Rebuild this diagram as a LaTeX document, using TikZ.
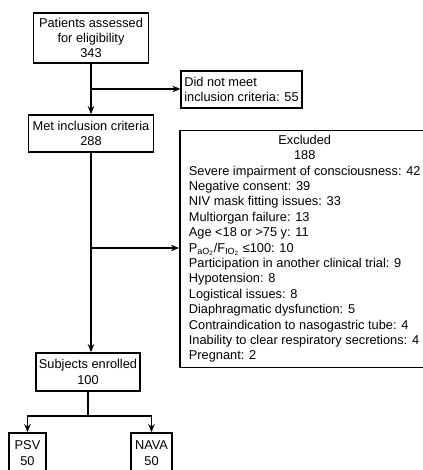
\documentclass[tikz,border=0pt]{standalone}
\usepackage{fontspec}
\setmainfont{Liberation Sans}
\usepackage{tikz}
\usetikzlibrary{positioning}
\usetikzlibrary{arrows, shapes, arrows.meta}
\tikzstyle{box} = [draw=black, line width=1.8pt, inner sep=3pt, align=center]
\tikzstyle{line} = [line width=1.8pt]
\tikzstyle{arrow} = [line width=1.8pt,->,>={Stealth[length=8pt,width=6.5pt]}]

\begin{document}
\begin{tikzpicture}[x=1pt,y=-1pt,font=\fontsize{12.8}{15.4}\selectfont]
        \useasboundingbox (0,0) rectangle (422,470);
        \node[box,minimum width=115pt,minimum height=50pt] (assess) at (91,38) {Patients assessed\\for eligibility\\343};
        \node[box,align=left,minimum width=119pt,minimum height=37pt] (notmet) at (241.5,89.5) {Did not meet\\inclusion criteria: 55};
        \node[box,minimum width=125pt,minimum height=37pt] (met) at (91,133.5) {Met inclusion criteria\\288};
        \node[box,anchor=west,inner xsep=0pt,minimum height=236pt] (excl) at (179,249) {%
            \begin{tabular}{@{\hspace{9pt}}l@{\hspace{9pt}}}
            \multicolumn{1}{@{\hspace{9pt}}c@{\hspace{9pt}}}{Excluded}\\
            \multicolumn{1}{@{\hspace{9pt}}c@{\hspace{9pt}}}{188}\\
            Severe impairment of consciousness: 42\\
            Negative consent: 39\\
            NIV mask fitting issues: 33\\
            Multiorgan failure: 13\\
            Age <18 or >75 y: 11\\
            P\textsubscript{aO\textsubscript{2}}/F\textsubscript{IO\textsubscript{2}} ≤100: 10\\
            Participation in another clinical trial: 9\\
            Hypotension: 8\\
            Logistical issues: 8\\
            Diaphragmatic dysfunction: 5\\
            Contraindication to nasogastric tube: 4\\
            Inability to clear respiratory secretions: 4\\
            Pregnant: 2
            \end{tabular}};
        \node[box,minimum width=102pt,minimum height=38pt] (enrolled) at (88,372) {Subjects enrolled\\100};
        \node[box,minimum width=37pt,minimum height=40pt] (psv) at (27.5,453) {PSV\\50};
        \node[box,minimum width=41pt,minimum height=40pt] (nava) at (151.5,453) {NAVA\\50};

        \coordinate (c1) at (91,89);
        \coordinate (c2) at (91,248);
        \coordinate (c3) at (88,416);

        \path[arrow] (assess) edge (met);
        \path[arrow] (c1) edge (c1 -| notmet.west);
        \path[arrow] (met) edge (met |- enrolled.north);
        \path[arrow] (c2) edge (c2 -| excl.west);
        \draw[line] (enrolled) -- (c3);
        \draw[arrow] (c3) -| (psv);
        \draw[arrow] (c3) -| (nava);
    \end{tikzpicture}
\end{document}
